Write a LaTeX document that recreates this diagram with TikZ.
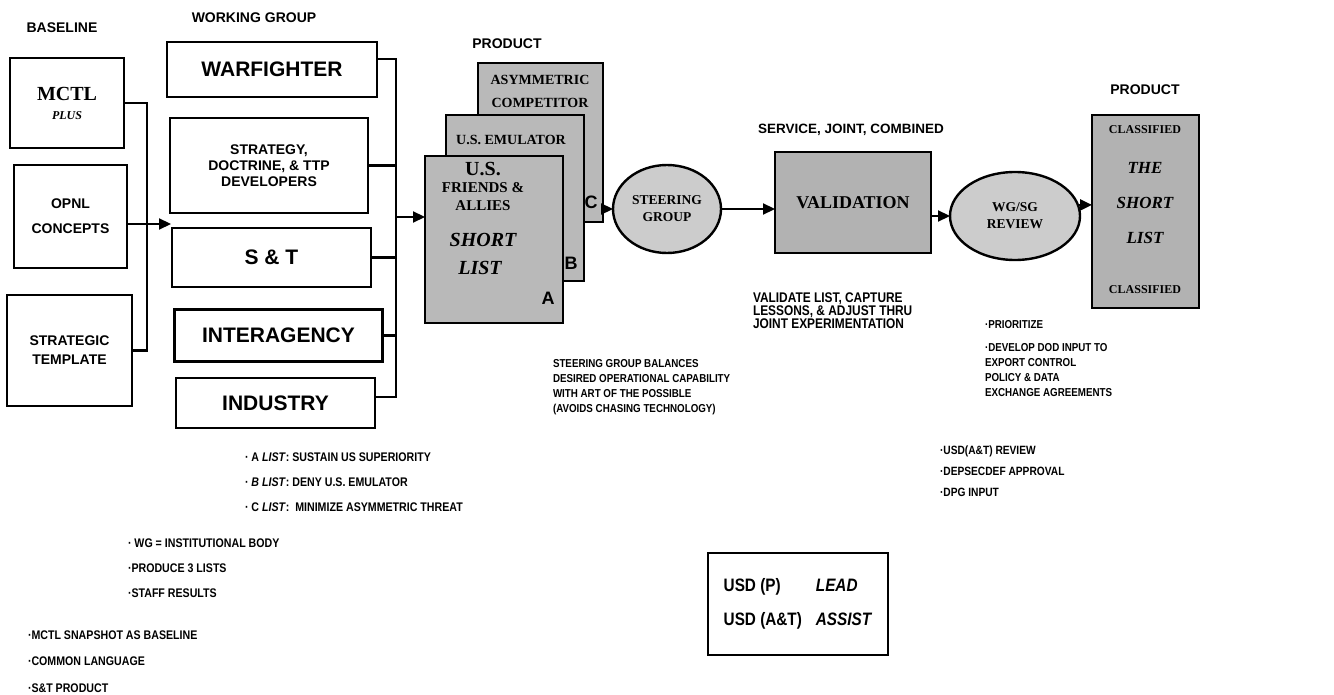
\documentclass[tikz,border=0pt]{standalone}
\usepackage{fontspec}
\setmainfont{Liberation Sans}
\newfontfamily\condf[FakeStretch=0.85]{Liberation Sans}
\newfontfamily\serf{Liberation Serif}
\usetikzlibrary{arrows.meta,shapes.geometric}

\tikzset{
  every node/.style={inner sep=0pt, outer sep=0pt},
  hdr/.style={font=\fontsize{14}{17}\selectfont\bfseries},
  basebox/.style={draw, line width=2.2pt, fill=white, align=center,
    font=\fontsize{14}{17}\selectfont\bfseries},
  wgbox/.style={draw, line width=2.2pt, fill=white, align=center,
    font=\fontsize{21}{24}\selectfont\bfseries},
  prodbox/.style={draw, line width=2.4pt, fill=gray!55},
  oval/.style={ellipse, draw, line width=2.4pt, fill=gray!40, align=center,
    font=\serf\bfseries\fontsize{13.5}{17}\selectfont},
  sertxt/.style={font=\serf\bfseries\fontsize{14}{16}\selectfont},
  bigital/.style={font=\serf\bfseries\itshape\fontsize{20}{22}\selectfont},
  letter/.style={font=\fontsize{18}{20}\selectfont\bfseries},
  conn/.style={line width=2.2pt},
  arr/.style={line width=2.2pt, -{Triangle[length=12pt,width=11pt]}},
  note/.style={anchor=north west, align=left, font=\condf\bfseries\fontsize{12}{15}\selectfont},
}

\begin{document}
\begin{tikzpicture}[x=1pt,y=-1pt]
\fill[white] (0,0) rectangle (1334,695);
\useasboundingbox (0,0) rectangle (1334,695);

% headers
\node[hdr] (hBase) at (62,28) {BASELINE};
\node[hdr] (hWG) at (254,18) {WORKING GROUP};
\node[hdr] (hProdA) at (507,44) {PRODUCT};
\node[hdr, font=\fontsize{13.5}{16}\selectfont\bfseries] (hSvc) at (851,130) {SERVICE, JOINT, COMBINED};
\node[hdr] (hProdB) at (1145,90) {PRODUCT};

% baseline boxes
\node[basebox, minimum width=114pt, minimum height=90pt] (mctl) at (67,103)
  {{\serf\fontsize{20}{22}\selectfont MCTL}\\[2pt]{\serf\itshape\fontsize{12}{14}\selectfont PLUS}};
\node[basebox, minimum width=113pt, minimum height=103pt] (opnl) at (70.5,216.5)
  {OPNL\\[8pt]CONCEPTS};
\node[basebox, minimum width=125pt, minimum height=111pt] (strat) at (69.5,350.5)
  {STRATEGIC\\[2pt]TEMPLATE};

% working group boxes
\node[wgbox, minimum width=210pt, minimum height=55pt] (warf) at (272,69.5) {WARFIGHTER};
\node[wgbox, minimum width=198pt, minimum height=95pt, font=\fontsize{14}{16}\selectfont\bfseries] (sdt) at (269,165.5)
  {STRATEGY,\\DOCTRINE, \& TTP\\DEVELOPERS};
\node[wgbox, minimum width=199pt, minimum height=59pt] (snt) at (271.5,257.5) {S \& T};
\node[wgbox, minimum width=208pt, minimum height=52pt] (inter) at (278.5,335.5) {INTERAGENCY};
\node[wgbox, minimum width=199pt, minimum height=50pt] (indu) at (275.5,403) {INDUSTRY};

% product stack
\node[prodbox, minimum width=125pt, minimum height=159pt] (prodC) at (540.5,142.5) {};
\node[prodbox, minimum width=138pt, minimum height=166pt] (prodB) at (515,198) {};
\node[prodbox, minimum width=138pt, minimum height=167pt] (prodA) at (494,239.5) {};
\node[sertxt] (tCas) at (540,80) {ASYMMETRIC};
\node[sertxt] (tCco) at (540,103) {COMPETITOR};
\node[letter] (tC) at (591,202) {C};
\node[sertxt] (tBem) at (511,140) {U.S. EMULATOR};
\node[letter] (tB) at (571,263) {B};
\node[sertxt, font=\serf\bfseries\fontsize{20}{22}\selectfont] (tAus) at (483,169) {U.S.};
\node[sertxt, font=\serf\bfseries\fontsize{15}{17}\selectfont] (tAfr) at (483,188) {FRIENDS \&};
\node[sertxt, font=\serf\bfseries\fontsize{15}{17}\selectfont] (tAal) at (483,206) {ALLIES};
\node[bigital] (tAsh) at (483,240) {SHORT};
\node[bigital] (tAli) at (480,268) {LIST};
\node[letter] (tA) at (548,298) {A};

% process chain
\node[oval, minimum width=108pt, minimum height=88pt] (steer) at (667,209) {STEERING\\GROUP};
\node[prodbox, fill=gray!60, minimum width=156pt, minimum height=101pt,
  font=\serf\bfseries\fontsize{18}{20}\selectfont] (val) at (853,202.5) {VALIDATION};
\node[oval, minimum width=130pt, minimum height=88pt] (rev) at (1015,216) {WG/SG\\REVIEW};
\node[prodbox, fill=gray!60, minimum width=107pt, minimum height=193pt] (fin) at (1145.5,211.5) {};
\node[sertxt, font=\serf\bfseries\fontsize{12}{14}\selectfont] (fCl1) at (1145,130) {CLASSIFIED};
\node[bigital, font=\serf\bfseries\itshape\fontsize{17}{19}\selectfont] (fThe) at (1145,168) {THE};
\node[bigital, font=\serf\bfseries\itshape\fontsize{17}{19}\selectfont] (fSh) at (1145,203) {SHORT};
\node[bigital, font=\serf\bfseries\itshape\fontsize{17}{19}\selectfont] (fLi) at (1145,238) {LIST};
\node[sertxt, font=\serf\bfseries\fontsize{12}{14}\selectfont] (fCl2) at (1145,290) {CLASSIFIED};

% connectors left
\coordinate (busL) at (147,0);
\coordinate (wgIn) at (171,224);
\draw[conn] (mctl.east) -| (busL |- strat.east) -- (strat.east);
\draw[arr] (opnl.east |- wgIn) -- (wgIn);

% connectors right of working group
\coordinate (busT) at (396,59);
\coordinate (busB) at (396,397);
\coordinate (busO) at (396,217);
\draw[conn] (warf.east |- busT) -- (busT) -- (busB) -- (indu.east |- busB);
\draw[conn] (sdt.east) -- (sdt.east -| busT);
\draw[conn] (snt.east) -- (snt.east -| busT);
\draw[conn] (inter.east) -- (inter.east -| busT);
\draw[arr] (busO) -- (busO -| prodA.west);

% chain arrows
\draw[arr] (prodC.east |- steer.west) -- (steer.west);
\draw[arr] (steer.east) -- (steer.east -| val.west);
\draw[arr] (rev.west -| val.east) -- (rev.west);
\draw[arr] (rev.10) -- (rev.10 -| fin.west);

% notes
\node[note, font=\condf\bfseries\fontsize{11.5}{15.3}\selectfont] (nSteer) at (553,359)
  {STEERING GROUP BALANCES\\DESIRED OPERATIONAL CAPABILITY\\WITH ART OF THE POSSIBLE\\(AVOIDS CHASING TECHNOLOGY)};
\node[note, font=\condf\bfseries\fontsize{14}{13}\selectfont] (nVal) at (753,293)
  {VALIDATE LIST, CAPTURE\\LESSONS, \& ADJUST THRU\\JOINT EXPERIMENTATION};
\node[note, font=\condf\bfseries\fontsize{11.5}{15.3}\selectfont] (nPri) at (985,320) {·PRIORITIZE};
\node[note, font=\condf\bfseries\fontsize{11.5}{15.3}\selectfont] (nDev) at (985,343)
  {·DEVELOP DOD INPUT TO\\EXPORT CONTROL\\POLICY \& DATA\\EXCHANGE AGREEMENTS};
\node[note, font=\condf\bfseries\fontsize{12}{21}\selectfont] (nUsd) at (940,445.7)
  {·USD(A\&T) REVIEW\\·DEPSECDEF APPROVAL\\·DPG INPUT};
\node[note, font=\condf\bfseries\fontsize{12.5}{25}\selectfont] (nList) at (245,452.5)
  {· A \textit{LIST}: SUSTAIN US SUPERIORITY\\· \textit{B} \textit{LIST}: DENY U.S. EMULATOR\\· C \textit{LIST}:\ \ MINIMIZE ASYMMETRIC THREAT};
\node[note, font=\condf\bfseries\fontsize{12.5}{25}\selectfont] (nWg) at (128,538.5)
  {· WG = INSTITUTIONAL BODY\\·PRODUCE 3 LISTS\\·STAFF RESULTS};
\node[note, font=\condf\bfseries\fontsize{12.5}{26.5}\selectfont] (nMctl) at (28,630.5)
  {·MCTL SNAPSHOT AS BASELINE\\·COMMON LANGUAGE\\·S\&T PRODUCT};

% lead box
\node[draw, line width=2.2pt, minimum width=180pt, minimum height=102pt,
  font=\condf\bfseries\fontsize{18}{20}\selectfont] (usd) at (798,604)
  {\begin{tabular}{@{}l@{\hspace{14pt}}l@{}}USD (P) & \textit{LEAD}\\[14pt] USD (A\&T) & \textit{ASSIST}\end{tabular}};
\end{tikzpicture}
\end{document}
